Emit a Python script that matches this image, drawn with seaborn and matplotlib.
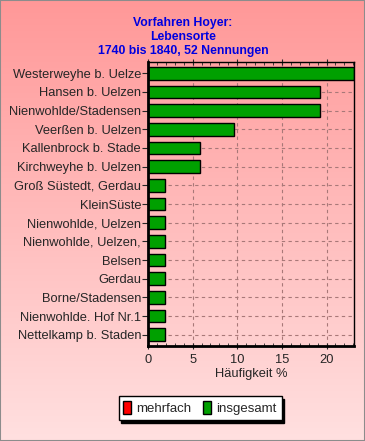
import numpy as np
import pandas as pd
import matplotlib
matplotlib.use("Agg")
import matplotlib.pyplot as plt
from matplotlib.patches import Patch, Rectangle
from matplotlib.ticker import MultipleLocator
import seaborn as sns

# data (52 mentions in total)
orte = ["Westerweyhe b. Uelze", "Hansen b. Uelzen", "Nienwohlde/Stadensen",
        "Veerßen b. Uelzen", "Kallenbrock b. Stade", "Kirchweyhe b. Uelzen",
        "Groß Süstedt, Gerdau", "KleinSüste", "Nienwohlde, Uelzen",
        "Nienwohlde, Uelzen,", "Belsen", "Gerdau", "Borne/Stadensen",
        "Nienwohlde. Hof Nr.1", "Nettelkamp b. Staden"]
insgesamt = [23.08, 19.23, 19.23, 9.62, 5.77, 5.77, 1.92, 1.92, 1.92,
             1.92, 1.92, 1.92, 1.92, 1.92, 1.92]
titel = "Vorfahren Hoyer:\nLebensorte\n1740 bis 1840, 52 Nennungen"

sns.set_style("white")
plt.rcParams['font.family'] = ['Liberation Sans', 'DejaVu Sans']

fig = plt.figure(figsize=(3.65, 4.41), dpi=100)

# pink gradient background
bg = fig.add_axes([0, 0, 1, 1], zorder=-10)
top = np.array([255, 152, 152]) / 255
bot = np.array([255, 224, 224]) / 255
t = np.linspace(0, 1, 256)[:, None]
grad = (top * (1 - t) + bot * t)[:, None, :]
bg.imshow(grad, aspect="auto", extent=[0, 1, 0, 1])
bg.axis("off")
fig.patches.append(Rectangle((0, 0), 1, 1, transform=fig.transFigure,
                             fill=False, edgecolor="#8c8c8c", lw=1.5))

ax = fig.add_axes([148 / 365, 1 - 346 / 441, 206 / 365, 284 / 441])
ax.set_facecolor("none")

df = pd.DataFrame({"Ort": orte, "Wert": insgesamt})
sns.barplot(data=df, x="Wert", y="Ort", orient="h", color="#00a000",
            saturation=1, edgecolor="black", linewidth=1, width=0.68, ax=ax)

ax.set_xlim(0, 23.08)
ax.set_ylim(len(orte) - 0.4, -0.6)
ax.xaxis.set_major_locator(MultipleLocator(5))
ax.xaxis.set_minor_locator(MultipleLocator(1))
ax.grid(True, axis="both", which="major", linestyle=(0, (3, 3)),
        color="#a87878", linewidth=0.8)
ax.set_axisbelow(True)
ax.tick_params(axis="x", which="major", direction="inout", length=5,
               top=True, bottom=True, labelsize=9.3, pad=3)
ax.tick_params(axis="x", which="minor", direction="in", length=2.5,
               top=True, bottom=True)
ax.tick_params(axis="y", which="major", direction="out", length=4,
               left=True, labelsize=9.3, pad=1)
ax.set_xlabel("Häufigkeit %", fontsize=9.3, labelpad=2)
ax.set_ylabel("")
for side in ["top", "right"]:
    ax.spines[side].set_linewidth(1)
for side in ["left", "bottom"]:
    ax.spines[side].set_linewidth(2)
for s in ax.spines.values():
    s.set_color("black")
    s.set_visible(True)

fig.text(183 / 365, 1 - 17 / 441, titel, ha="center", va="top",
         color="#0000e0", fontweight="bold", fontsize=8.8, linespacing=1.2)

handles = [Patch(facecolor="#ff0000", edgecolor="black", label="mehrfach"),
           Patch(facecolor="#00a000", edgecolor="black", label="insgesamt")]
leg = fig.legend(handles=handles, loc="center", ncol=2,
                 bbox_to_anchor=(200 / 365, 1 - 408 / 441), frameon=True,
                 fancybox=False, shadow={"color": "black", "alpha": 1},
                 fontsize=9.5, handlelength=0.6, handleheight=1.2,
                 handletextpad=0.4, columnspacing=0.9, borderpad=0.35,
                 borderaxespad=0)
leg.get_frame().set_edgecolor("black")
leg.get_frame().set_linewidth(1)

fig.savefig("out.png", dpi=100)
